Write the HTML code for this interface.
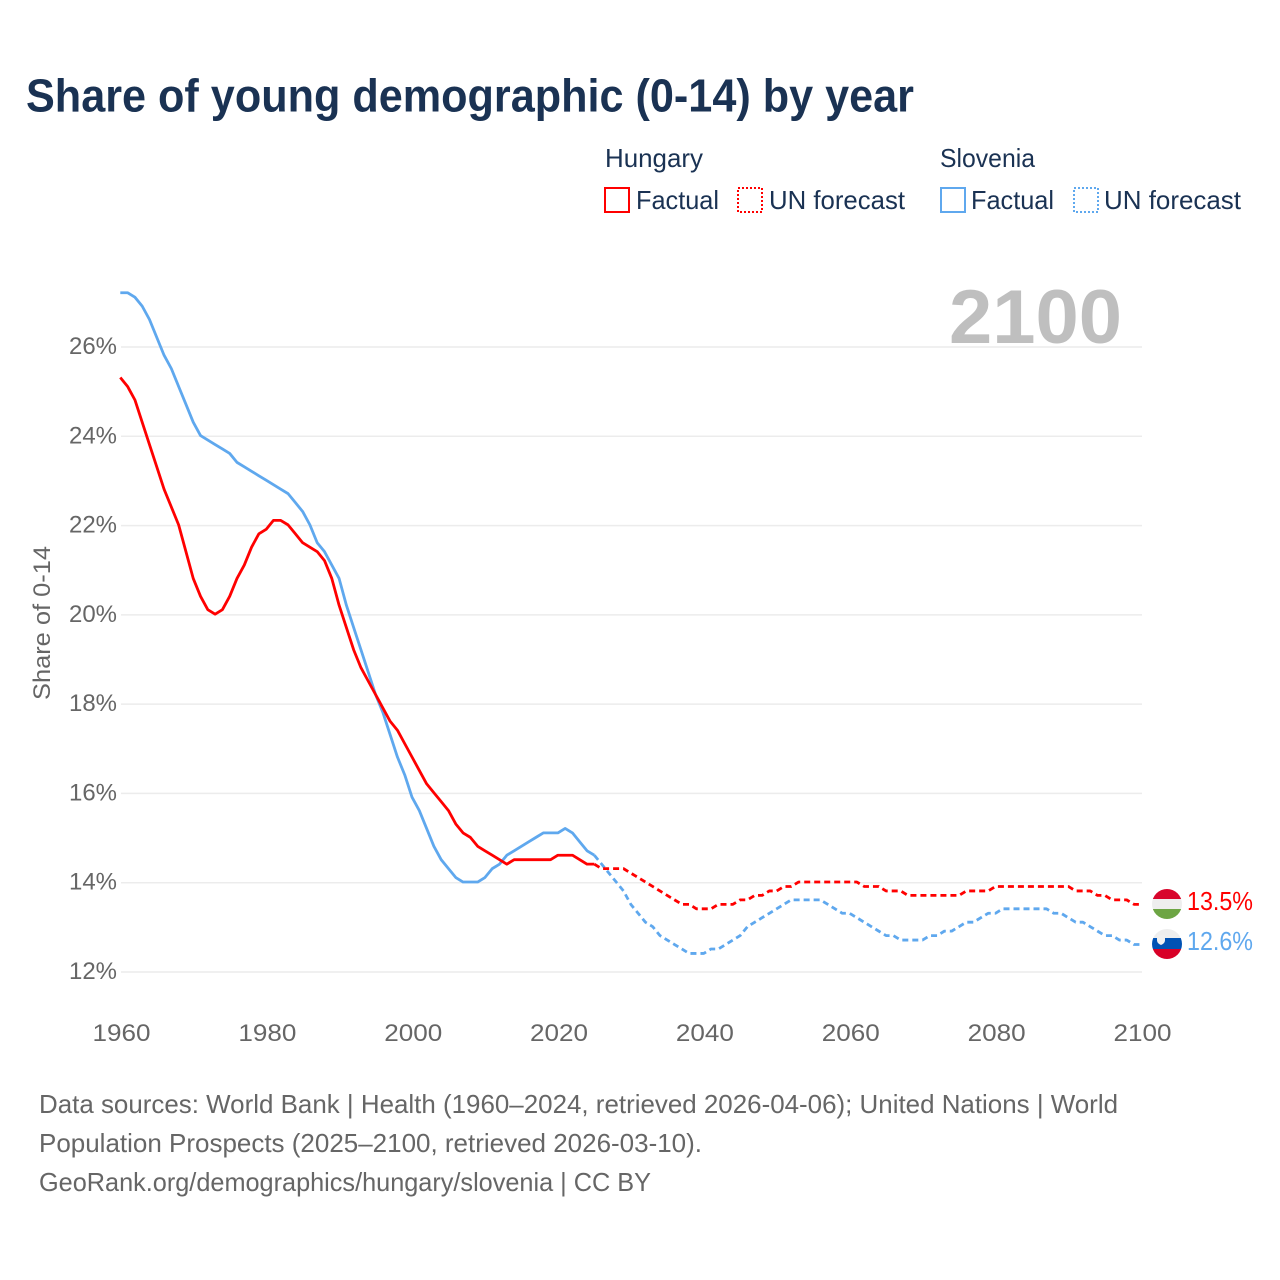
<!DOCTYPE html>
<html lang="en">
<head>
<meta charset="utf-8">
<title>Share of young demographic (0-14) by year</title>
<style>
html,body{margin:0;padding:0;background:#fff;width:1280px;height:1280px;overflow:hidden}
svg{display:block;font-family:"Liberation Sans",sans-serif}
</style>
</head>
<body>
<svg id="chart" width="1280" height="1280" viewBox="0 0 1280 1280" xmlns="http://www.w3.org/2000/svg">
  <defs>
    <clipPath id="clip-hu"><circle cx="1167" cy="904" r="15"/></clipPath>
    <clipPath id="clip-si"><circle cx="1167" cy="944" r="15"/></clipPath>
  </defs>
  <rect width="1280" height="1280" fill="#fff"/>
  <text x="26" y="111.5" font-size="46" font-weight="700" fill="#1a3253" textLength="888" lengthAdjust="spacingAndGlyphs">Share of young demographic (0-14) by year</text>

  <g font-size="26" fill="#1a3253">
    <text x="605" y="167" textLength="98" lengthAdjust="spacingAndGlyphs">Hungary</text>
    <rect x="605" y="188" width="24" height="24" fill="none" stroke="#ff0000" stroke-width="2"/>
    <text x="636" y="209" textLength="83" lengthAdjust="spacingAndGlyphs">Factual</text>
    <rect x="738" y="188" width="24" height="24" fill="none" stroke="#ff0000" stroke-width="2" stroke-dasharray="2 2"/>
    <text x="769" y="209" textLength="136" lengthAdjust="spacingAndGlyphs">UN forecast</text>
    <text x="940" y="167" textLength="95" lengthAdjust="spacingAndGlyphs">Slovenia</text>
    <rect x="941" y="188" width="24" height="24" fill="none" stroke="#5fa8ee" stroke-width="2"/>
    <text x="971" y="209" textLength="83" lengthAdjust="spacingAndGlyphs">Factual</text>
    <rect x="1074" y="188" width="24" height="24" fill="none" stroke="#5fa8ee" stroke-width="2" stroke-dasharray="2 2"/>
    <text x="1104" y="209" textLength="137" lengthAdjust="spacingAndGlyphs">UN forecast</text>
  </g>

  <g id="grid"></g>
  <text x="949" y="343" font-size="76" font-weight="700" fill="#bfbfbf" textLength="173" lengthAdjust="spacingAndGlyphs">2100</text>
  <g id="yticks" font-size="24" fill="#666"></g>
  <g id="xticks" font-size="24" fill="#666"></g>
  <text transform="translate(50,700) rotate(-90)" font-size="24" fill="#666" textLength="154" lengthAdjust="spacingAndGlyphs">Share of 0-14</text>
  <g id="series" transform="translate(-0.7,-0.7)"></g>

  <g clip-path="url(#clip-hu)">
    <rect x="1150" y="888" width="34" height="11" fill="#d8062c"/>
    <rect x="1150" y="899" width="34" height="10" fill="#eeeeee"/>
    <rect x="1150" y="909" width="34" height="11" fill="#6da544"/>
  </g>
  <g clip-path="url(#clip-si)">
    <rect x="1150" y="928" width="34" height="10" fill="#eeeeee"/>
    <rect x="1150" y="938" width="34" height="11" fill="#0052b4"/>
    <rect x="1150" y="949" width="34" height="11" fill="#d80027"/>
    <path d="M1157 935h8v5c0 3-2 4-4 5c-2-1-4-2-4-5z" fill="#f0f0f0"/>
  </g>
  <text id="label-hu" x="1187" y="910" font-size="26" fill="#ff0000" textLength="66" lengthAdjust="spacingAndGlyphs"></text>
  <text id="label-si" x="1187" y="950" font-size="26" fill="#5fa8ee" textLength="66" lengthAdjust="spacingAndGlyphs"></text>

  <g font-size="26" fill="#666">
    <text x="39" y="1113" textLength="1079" lengthAdjust="spacingAndGlyphs">Data sources: World Bank | Health (1960–2024, retrieved 2026-04-06); United Nations | World</text>
    <text x="39" y="1152" textLength="663" lengthAdjust="spacingAndGlyphs">Population Prospects (2025–2100, retrieved 2026-03-10).</text>
    <text x="39" y="1191" textLength="612" lengthAdjust="spacingAndGlyphs">GeoRank.org/demographics/hungary/slovenia | CC BY</text>
  </g>
</svg>
<script>
const factualYears = [1960,1961,1962,1963,1964,1965,1966,1967,1968,1969,1970,1971,1972,1973,1974,1975,1976,1977,1978,1979,1980,1981,1982,1983,1984,1985,1986,1987,1988,1989,1990,1991,1992,1993,1994,1995,1996,1997,1998,1999,2000,2001,2002,2003,2004,2005,2006,2007,2008,2009,2010,2011,2012,2013,2014,2015,2016,2017,2018,2019,2020,2021,2022,2023,2024,2025];
const forecastYears = [2025,2026,2027,2028,2029,2030,2031,2032,2033,2034,2035,2036,2037,2038,2039,2040,2041,2042,2043,2044,2045,2046,2047,2048,2049,2050,2051,2052,2053,2054,2055,2056,2057,2058,2059,2060,2061,2062,2063,2064,2065,2066,2067,2068,2069,2070,2071,2072,2073,2074,2075,2076,2077,2078,2079,2080,2081,2082,2083,2084,2085,2086,2087,2088,2089,2090,2091,2092,2093,2094,2095,2096,2097,2098,2099,2100];
const hungaryFactual = [25.3,25.1,24.8,24.3,23.8,23.3,22.8,22.4,22.0,21.4,20.8,20.4,20.1,20.0,20.1,20.4,20.8,21.1,21.5,21.8,21.9,22.1,22.1,22.0,21.8,21.6,21.5,21.4,21.2,20.8,20.2,19.7,19.2,18.8,18.5,18.2,17.9,17.6,17.4,17.1,16.8,16.5,16.2,16.0,15.8,15.6,15.3,15.1,15.0,14.8,14.7,14.6,14.5,14.4,14.5,14.5,14.5,14.5,14.5,14.5,14.6,14.6,14.6,14.5,14.4,14.4];
const hungaryForecast = [14.4,14.3,14.3,14.3,14.3,14.2,14.1,14.0,13.9,13.8,13.7,13.6,13.5,13.5,13.4,13.4,13.4,13.5,13.5,13.5,13.6,13.6,13.7,13.7,13.8,13.8,13.9,13.9,14.0,14.0,14.0,14.0,14.0,14.0,14.0,14.0,14.0,13.9,13.9,13.9,13.8,13.8,13.8,13.7,13.7,13.7,13.7,13.7,13.7,13.7,13.7,13.8,13.8,13.8,13.8,13.9,13.9,13.9,13.9,13.9,13.9,13.9,13.9,13.9,13.9,13.9,13.8,13.8,13.8,13.7,13.7,13.6,13.6,13.6,13.5,13.5];
const sloveniaFactual = [27.2,27.2,27.1,26.9,26.6,26.2,25.8,25.5,25.1,24.7,24.3,24.0,23.9,23.8,23.7,23.6,23.4,23.3,23.2,23.1,23.0,22.9,22.8,22.7,22.5,22.3,22.0,21.6,21.4,21.1,20.8,20.2,19.7,19.2,18.7,18.2,17.8,17.3,16.8,16.4,15.9,15.6,15.2,14.8,14.5,14.3,14.1,14.0,14.0,14.0,14.1,14.3,14.4,14.6,14.7,14.8,14.9,15.0,15.1,15.1,15.1,15.2,15.1,14.9,14.7,14.6];
const sloveniaForecast = [14.6,14.4,14.2,14.0,13.8,13.5,13.3,13.1,13.0,12.8,12.7,12.6,12.5,12.4,12.4,12.4,12.5,12.5,12.6,12.7,12.8,13.0,13.1,13.2,13.3,13.4,13.5,13.6,13.6,13.6,13.6,13.6,13.5,13.4,13.3,13.3,13.2,13.1,13.0,12.9,12.8,12.8,12.7,12.7,12.7,12.7,12.8,12.8,12.9,12.9,13.0,13.1,13.1,13.2,13.3,13.3,13.4,13.4,13.4,13.4,13.4,13.4,13.4,13.3,13.3,13.2,13.1,13.1,13.0,12.9,12.8,12.8,12.7,12.7,12.6,12.6];
const yTickValues = [12,14,16,18,20,22,24,26];
const yTickLabels = ['12%','14%','16%','18%','20%','22%','24%','26%'];
const xTickValues = [1960,1980,2000,2020,2040,2060,2080,2100];
const xTickLabels = ['1960','1980','2000','2020','2040','2060','2080','2100'];

const NS = 'http://www.w3.org/2000/svg';
function xScale(year){ return 121 + (year - 1960) * (1142 - 121) / 140; }
function yScale(value){ return 972 - (value - 12) * (972 - 347) / 14; }
function linePath(years, values){
  return values.map(function(v, i){
    return (i ? 'L' : 'M') + xScale(years[i]).toFixed(2) + ' ' + yScale(v).toFixed(2);
  }).join('');
}

const gridGroup = document.getElementById('grid');
const yGroup = document.getElementById('yticks');
yTickValues.forEach(function(v, i){
  const gl = document.createElementNS(NS, 'line');
  
  
  gl.setAttribute('x1', xScale(1960));
  gl.setAttribute('x2', xScale(2100));
  gl.setAttribute('y1', yScale(v));
  gl.setAttribute('y2', yScale(v));
  gl.setAttribute('stroke', '#ececec');
  gl.setAttribute('stroke-width', '1.5');
  gridGroup.appendChild(gl);
  const t = document.createElementNS(NS, 'text');
  
  
  t.setAttribute('x', 69);
  t.setAttribute('y', yScale(v) + 7);
  t.setAttribute('textLength', '48');
  t.setAttribute('lengthAdjust', 'spacingAndGlyphs');
  t.textContent = yTickLabels[i];
  yGroup.appendChild(t);
});

const xGroup = document.getElementById('xticks');
xTickValues.forEach(function(v, i){
  const t = document.createElementNS(NS, 'text');
  
  
  t.setAttribute('x', xScale(v) - 28.5);
  t.setAttribute('y', 1041);
  t.setAttribute('textLength', '58');
  t.setAttribute('lengthAdjust', 'spacingAndGlyphs');
  t.textContent = xTickLabels[i];
  xGroup.appendChild(t);
});

const seriesGroup = document.getElementById('series');
function addLine(name, years, values, color, dashed){
  const p = document.createElementNS(NS, 'path');
  
  
  p.setAttribute('d', linePath(years, values));
  p.setAttribute('fill', 'none');
  p.setAttribute('stroke', color);
  p.setAttribute('stroke-width', '2.8');
  p.setAttribute('stroke-linejoin', 'round');
  if (dashed) p.setAttribute('stroke-dasharray', '6 4');
  seriesGroup.appendChild(p);
}
addLine('line-slovenia-forecast', forecastYears, sloveniaForecast, '#5fa8ee', true);
addLine('line-hungary-forecast', forecastYears, hungaryForecast, '#ff0000', true);
addLine('line-slovenia-factual', factualYears, sloveniaFactual, '#5fa8ee', false);
addLine('line-hungary-factual', factualYears, hungaryFactual, '#ff0000', false);

document.getElementById('label-hu').textContent = hungaryForecast[hungaryForecast.length - 1].toFixed(1) + '%';
document.getElementById('label-si').textContent = sloveniaForecast[sloveniaForecast.length - 1].toFixed(1) + '%';
</script>
</body>
</html>
